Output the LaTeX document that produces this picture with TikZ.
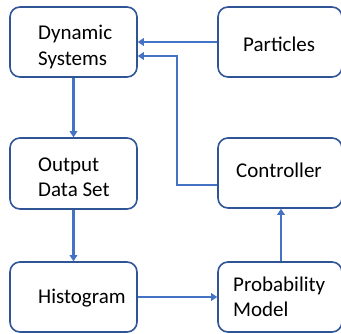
\documentclass[tikz,border=0pt]{standalone}
\usepackage{fontspec}
\setmainfont{Carlito}
\usetikzlibrary{arrows.meta}
\definecolor{boxline}{HTML}{2F5597}
\definecolor{arrowc}{HTML}{4472C4}
\begin{document}
\begin{tikzpicture}[x=1pt,y=1pt,
  box/.style={draw=boxline, line width=1.6pt, rounded corners=10pt, minimum width=127pt, minimum height=70pt, inner sep=0pt},
  txt/.style={anchor=base west, align=left, inner sep=0pt, font=\fontsize{21}{25.5}\selectfont},
  conn/.style={draw=arrowc, line width=2.9pt, -{Triangle[length=6pt,width=7.5pt]}}]
\useasboundingbox (0,0) rectangle (341,333);
\begin{scope}
\clip (0,0) rectangle (341,333);
\node[box] (ds) at (73.5,291) {};
\node[box, minimum width=124pt] (pa) at (280,291) {};
\node[box, minimum height=71pt] (od) at (73.5,159.5) {};
\node[box, minimum width=124pt] (co) at (280,160) {};
\node[box] (hi) at (73.5,36) {};
\node[box, minimum width=124pt] (pm) at (280,36) {};
\end{scope}
\node[txt] (dst) at (38,268) {Dynamic\\Systems};
\node[txt] (pat) at (243,281) {Particles};
\node[txt] (odt) at (38,136) {Output\\Data Set};
\node[txt] (cot) at (236,155) {Controller};
\node[txt] (hit) at (38,30) {Histogram};
\node[txt] (pmt) at (233,16.3) {Probability\\Model};
\draw[conn] (pa.west) -- (ds.east);
\draw[conn] ([yshift=-12pt]co.west) -| (177,277) -- ([yshift=-14pt]ds.east);
\draw[conn] (ds.south) -- (od.north);
\draw[conn] (od.south) -- (hi.north);
\draw[conn] (hi.east) -- (pm.west);
\draw[conn] ([xshift=1pt]pm.north) -- ([xshift=1pt]co.south);
\end{tikzpicture}
\end{document}
